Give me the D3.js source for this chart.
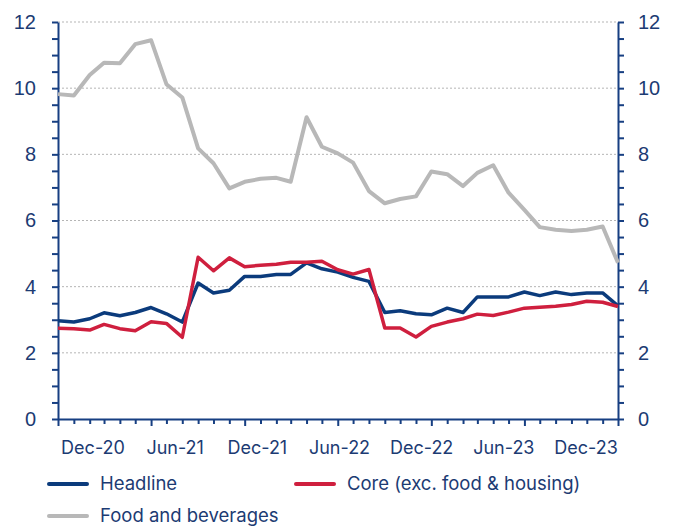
<!DOCTYPE html>
<html>
<head>
<meta charset="utf-8">
<script src="https://cdn.jsdelivr.net/npm/d3@7"></script>
<style>
  body { margin: 0; background: #fff; }
  svg { display: block; font-family: "Inter", "Roboto", sans-serif; }
</style>
</head>
<body>
<svg width="678" height="526"></svg>
<script>
var width = 678;
var height = 526;

// monthly observations, Dec-20 .. Dec-23
var months = [
  "2020-12","2021-01","2021-02","2021-03","2021-04","2021-05","2021-06",
  "2021-07","2021-08","2021-09","2021-10","2021-11","2021-12",
  "2022-01","2022-02","2022-03","2022-04","2022-05","2022-06",
  "2022-07","2022-08","2022-09","2022-10","2022-11","2022-12",
  "2023-01","2023-02","2023-03","2023-04","2023-05","2023-06",
  "2023-07","2023-08","2023-09","2023-10","2023-11","2023-12"
];

var headline = [2.97, 2.93, 3.03, 3.21, 3.12, 3.22, 3.37, 3.18, 2.93, 4.11, 3.81, 3.89, 4.31,
                4.31, 4.37, 4.37, 4.72, 4.54, 4.44, 4.28, 4.16, 3.22, 3.27, 3.18, 3.15,
                3.35, 3.22, 3.69, 3.69, 3.69, 3.84, 3.73, 3.84, 3.76, 3.81, 3.81, 3.42];

var core = [2.74, 2.73, 2.69, 2.86, 2.73, 2.67, 2.94, 2.89, 2.47, 4.89, 4.48, 4.87, 4.60,
            4.65, 4.68, 4.74, 4.74, 4.77, 4.51, 4.38, 4.52, 2.75, 2.75, 2.48, 2.80,
            2.93, 3.03, 3.17, 3.13, 3.23, 3.35, 3.38, 3.41, 3.46, 3.56, 3.53, 3.40];

var food = [9.82, 9.78, 10.40, 10.77, 10.75, 11.33, 11.45, 10.12, 9.72, 8.18, 7.73, 6.97, 7.17,
            7.26, 7.29, 7.17, 9.12, 8.23, 8.03, 7.75, 6.89, 6.52, 6.65, 6.73, 7.48,
            7.40, 7.04, 7.44, 7.67, 6.84, 6.32, 5.80, 5.72, 5.68, 5.72, 5.82, 4.72];

var tickLabels = ["Dec-20", "Jun-21", "Dec-21", "Jun-22", "Dec-22", "Jun-23", "Dec-23"];
var yTicks = [0, 2, 4, 6, 8, 10, 12];

var series = [
  { name: "Food and beverages", values: food, color: "#b8b8b8", width: 4 },
  { name: "Headline", values: headline, color: "#0b3b7c", width: 3.5 },
  { name: "Core (exc. food & housing)", values: core, color: "#cf1f3e", width: 3.5 }
];

var textColor = "#1c3b73";
var axisColor = "#173f82";

var parseMonth = d3.timeParse("%Y-%m");
var dates = months.map(parseMonth);

var plotLeft = 58, plotRight = 618, plotTop = 22, plotBottom = 419;

var xScale = d3.scaleTime()
               .domain(d3.extent(dates))
               .range([plotLeft, plotRight]);

var yScale = d3.scaleLinear()
               .domain([0, 12])
               .range([plotBottom, plotTop]);

var svg = d3.select("svg");

// dotted gridlines
svg.append("g")
  .selectAll("line")
  .data(yTicks.filter(d => d > 0))
  .enter()
  .append("line")
    .attr("x1", plotLeft)
    .attr("x2", plotRight)
    .attr("y1", d => yScale(d))
    .attr("y2", d => yScale(d))
    .attr("stroke", "#b5b5b5")
    .attr("stroke-width", 1)
    .attr("stroke-dasharray", "2,2");

// minor ticks every 0.5
var minorY = d3.range(0, 12.01, 0.5);

function styleAxis(g) {
  g.select(".domain").attr("stroke", axisColor).attr("stroke-width", 2);
  g.selectAll(".tick line").attr("stroke", axisColor).attr("stroke-width", 2);
  g.selectAll(".tick text")
    .attr("fill", textColor)
    .attr("font-size", "20px");
}

var yLeft = d3.axisLeft(yScale)
              .tickValues(minorY)
              .tickSize(6)
              .tickSizeOuter(0)
              .tickPadding(16)
              .tickFormat(d => yTicks.includes(d) ? d : "");

svg.append("g")
    .attr("transform", "translate(" + plotLeft + ",0)")
    .call(yLeft)
    .call(styleAxis);

var yRight = d3.axisRight(yScale)
               .tickValues(minorY)
               .tickSize(6)
               .tickSizeOuter(0)
               .tickPadding(14)
               .tickFormat(d => yTicks.includes(d) ? d : "");

svg.append("g")
    .attr("transform", "translate(" + plotRight + ",0)")
    .call(yRight)
    .call(styleAxis);

// x axis: a tick each month, longer every 6 months
var xAxis = d3.axisBottom(xScale)
              .tickValues(dates)
              .tickSize(5)
              .tickSizeOuter(0)
              .tickFormat("");

var xg = svg.append("g")
    .attr("transform", "translate(0," + plotBottom + ")")
    .call(xAxis)
    .call(styleAxis);

xg.selectAll(".tick line")
    .attr("y2", (d, i) => i % 6 === 0 ? 7 : 5);

// category labels as laid out in the original
var labelScale = d3.scalePoint()
                   .domain(tickLabels)
                   .range([93, 586]);

svg.append("g")
  .selectAll("text")
  .data(tickLabels)
  .enter()
  .append("text")
    .attr("x", d => labelScale(d))
    .attr("y", 454)
    .attr("text-anchor", "middle")
    .attr("fill", textColor)
    .attr("font-size", "18px")
    .text(d => d);

// lines
var line = d3.line()
             .x((d, i) => xScale(dates[i]))
             .y(d => yScale(d));

svg.append("g")
  .selectAll("path")
  .data(series)
  .enter()
  .append("path")
    .attr("d", d => line(d.values))
    .attr("fill", "none")
    .attr("stroke", d => d.color)
    .attr("stroke-width", d => d.width)
    .attr("stroke-linejoin", "round");

// legend
var legendItems = [
  { s: series[1], x: 49, y: 484 },
  { s: series[2], x: 296, y: 484 },
  { s: series[0], x: 49, y: 516 }
];

var legend = svg.append("g")
  .selectAll("g")
  .data(legendItems)
  .enter()
  .append("g")
    .attr("transform", d => "translate(" + d.x + "," + d.y + ")");

legend.append("line")
    .attr("x1", 0)
    .attr("x2", 38)
    .attr("stroke", d => d.s.color)
    .attr("stroke-width", 4)
    .attr("stroke-linecap", "round");

legend.append("text")
    .attr("x", 51)
    .attr("y", 6)
    .attr("fill", textColor)
    .attr("font-size", "18.5px")
    .text(d => d.s.name);
</script>
</body>
</html>
